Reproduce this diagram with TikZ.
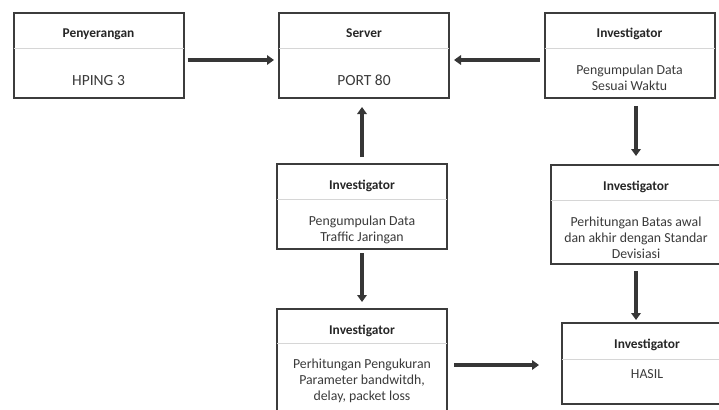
\documentclass[tikz,border=0pt]{standalone}
\usepackage{fontspec}
\setmainfont{Carlito}
\usetikzlibrary{positioning}
\usetikzlibrary{arrows.meta}

\definecolor{garis}{HTML}{3C3C3C}
\definecolor{pemisahwarna}{HTML}{D6D6D6}
\definecolor{panahwarna}{HTML}{363636}
\definecolor{teks}{HTML}{3A3A3A}

\begin{document}
\begin{tikzpicture}[x=1pt, y=-1pt, kotak/.style={draw=garis, line width=2pt, minimum width=170pt, inner sep=0pt, outer sep=0pt},judul/.style={font=\fontsize{13.4}{15}\selectfont\bfseries, text=black!85, inner sep=0pt, anchor=base},isi/.style={font=\fontsize{13.8}{16}\selectfont, text=teks, align=center, inner sep=0pt},besar/.style={font=\fontsize{15.5}{17}\selectfont}]
\tikzstyle{pemisah}=[draw=pemisahwarna, line width=0.8pt]
\tikzstyle{panah}=[draw=panahwarna, line width=3.8pt, -{Triangle[length=7pt,width=9.5pt]}]

\useasboundingbox (0,0) rectangle (719,409);

\node (serang) [kotak, minimum height=85pt] at (98.5, 55.5) {};
\node (server) [kotak, minimum height=85pt] at (364, 55.5) {};
\node (kumpul) [kotak, minimum height=85pt] at (629.5, 55.5) {};
\node (traffic) [kotak, minimum height=85pt] at (362, 206.5) {};
\node (hitung) [kotak, minimum height=99pt] at (636, 214.5) {};
\node (ukur) [kotak, minimum height=110pt] at (362, 364) {};
\node (hasil) [kotak, minimum height=81pt] at (647, 363.5) {};

% pemisah
\draw [pemisah]([yshift=-35pt]serang.north west) -- ([yshift=-35pt]serang.north east);
\draw [pemisah]([yshift=-35pt]server.north west) -- ([yshift=-35pt]server.north east);
\draw [pemisah]([yshift=-35pt]kumpul.north west) -- ([yshift=-35pt]kumpul.north east);
\draw [pemisah]([yshift=-35pt]traffic.north west) -- ([yshift=-35pt]traffic.north east);
\draw [pemisah]([yshift=-35pt]hitung.north west) -- ([yshift=-35pt]hitung.north east);
\draw [pemisah]([yshift=-34pt]ukur.north west) -- ([yshift=-34pt]ukur.north east);
\draw [pemisah]([yshift=-36pt]hasil.north west) -- ([yshift=-36pt]hasil.north east);

% judul
\node [judul,below=25pt of serang.north,anchor=base] {Penyerangan};
\node [judul,below=25pt of server.north,anchor=base] {Server};
\node [judul,below=25pt of kumpul.north,anchor=base] {Investigator};
\node [judul,below=25pt of traffic.north,anchor=base] {Investigator};
\node [judul,below=25pt of hitung.north,anchor=base] {Investigator};
\node [judul,below=25pt of ukur.north,anchor=base] {Investigator};
\node [judul,below=25pt of hasil.north,anchor=base] {Investigator};

% isi
\node [isi,besar,below=62pt of serang.north] {HPING 3};
\node [isi,besar,below=62pt of server.north] {PORT 80};
\node [isi,below=52pt of kumpul.north] {Pengumpulan Data\\Sesuai Waktu};
\node [isi,below=52pt of traffic.north] {Pengumpulan Data\\Traffic Jaringan};
\node [isi,below=51.5pt of hitung.north] {Perhitungan Batas awal\\dan akhir dengan Standar\\Devisiasi};
\node [isi,below=50pt of ukur.north] {Perhitungan Pengukuran\\Parameter bandwitdh,\\delay, packet loss};
\node [isi,below=46pt of hasil.north] {HASIL};

% panah
\draw [panah,shorten <=4pt,shorten >=5pt]([yshift=-4.5pt]serang.east) -- ([yshift=-4.5pt]server.west);
\draw [panah,shorten <=5pt,shorten >=5pt]([yshift=-4.5pt]kumpul.west) -- ([yshift=-4.5pt]server.east);
\draw [panah,shorten <=7pt,shorten >=9pt](traffic.north) -- (traffic.north |- server.south);
\draw [panah,shorten <=8pt,shorten >=9pt](hitung.north |- kumpul.south) -- (hitung.north);
\draw [panah,shorten <=4pt,shorten >=7pt](traffic.south) -- (traffic.south |- ukur.north);
\draw [panah,shorten <=7pt,shorten >=3pt](hitung.south) -- (hitung.south |- hasil.north);
\draw [panah,shorten <=7pt,shorten >=23pt]([yshift=-1pt]ukur.east) -- ([yshift=-1pt]ukur.east -| hasil.west);
\end{tikzpicture}
\end{document}
